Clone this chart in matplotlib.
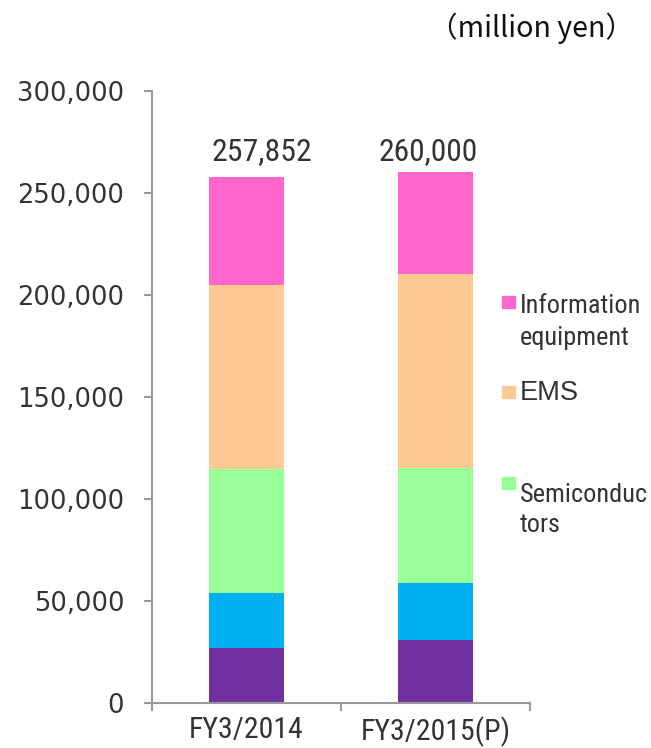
import matplotlib
matplotlib.use("Agg")
import matplotlib.pyplot as plt
from matplotlib.patches import Rectangle
from matplotlib.ticker import FuncFormatter
from matplotlib import font_manager
from matplotlib.font_manager import FontProperties

categories = ["FY3/2014", "FY3/2015(P)"]
purple = [27100, 31000]
blue = [26800, 27800]
semis = [60700, 56500]
ems = [90300, 94900]
info = [52952, 49800]
totals = [257852, 260000]
total_labels = ["257,852", "260,000"]
legend_labels = [["Information", "equipment"], ["EMS"], ["Semiconduc", "tors"]]
colors = ["#7030A0", "#00B0F0", "#99FF99", "#FFC993", "#FF66CC"]

names = {f.name for f in font_manager.fontManager.ttflist}
narrow_family = None
for cand in ["Roboto Condensed", "Liberation Sans Narrow", "Open Sans Condensed",
             "Noto Sans Condensed", "DejaVu Sans Condensed"]:
    if cand in names:
        narrow_family = cand
        break
if narrow_family is None:
    NARROW = FontProperties(family="DejaVu Sans", stretch="condensed")
else:
    NARROW = FontProperties(family=narrow_family)

def nfp(size):
    p = NARROW.copy()
    p.set_size(size)
    return p

W, H = 651, 748
def fx(px): return px / W
def fy(py): return 1 - py / H

fig = plt.figure(figsize=(6.51, 7.48), dpi=100)
ax = fig.add_axes([152/651, 45/748, (530-152)/651, (703-90.7)/748])

series = [purple, blue, semis, ems, info]
x = list(range(len(categories)))
bottom = [0, 0]
for vals, c in zip(series, colors):
    ax.bar(x, vals, width=0.40, bottom=bottom, color=c, edgecolor="none")
    bottom = [b + v for b, v in zip(bottom, vals)]

ax.set_xlim(-0.5, 1.5)
ax.set_ylim(0, 300000)
ax.set_yticks(range(0, 300001, 50000))
ax.yaxis.set_major_formatter(FuncFormatter(lambda v, p: f"{int(v):,}"))
ax.set_xticks([-0.5, 0.5, 1.5])
ax.set_xticklabels([])
ax.set_xticks(x, minor=True)
ax.set_xticklabels(categories, minor=True, fontproperties=nfp(22), color="#333333")
ax.tick_params(axis="x", which="minor", length=0, pad=9.5)
ax.tick_params(axis="x", which="major", length=6, width=1.5, color="#999999", direction="out")
ax.tick_params(axis="y", length=6, width=1.5, color="#999999", labelsize=18.5,
               labelcolor="#333333", pad=14)
for s in ["top", "right"]:
    ax.spines[s].set_visible(False)
for s in ["left", "bottom"]:
    ax.spines[s].set_color("#999999")
    ax.spines[s].set_linewidth(1.5)

renderer = fig.canvas.get_renderer()
def fit(t, target_w):
    bb = t.get_window_extent(renderer)
    if bb.width > 0:
        t.set_fontsize(t.get_fontsize() * target_w / bb.width)

# totals above bars
label_x = [262, 428]
for lab, px in zip(total_labels, label_x):
    t = fig.text(fx(px), fy(160), lab, ha="center", va="baseline",
                 fontproperties=nfp(24), color="#333333")
    fit(t, 100)

# x tick labels fit
for t, w in zip(ax.get_xticklabels(minor=True), [115, 150]):
    fit(t, w)
sizes = [t.get_fontsize() for t in ax.get_xticklabels(minor=True)]
for t in ax.get_xticklabels(minor=True):
    t.set_fontsize(sum(sizes) / len(sizes))

# legend (manual)
legend_colors = [colors[4], colors[3], colors[2]]
squares = [296, 386, 477]
baselines = [[313, 345], [400.5], [501.5, 531.5]]
widths = {"Information": 125, "Semiconduc": 128, "EMS": 59}
for c, sq, labs, bls in zip(legend_colors, squares, legend_labels, baselines):
    fig.patches.append(Rectangle((fx(502), fy(sq + 12)), 13/W, 12/H, transform=fig.transFigure,
                                 color=c, figure=fig))
    for lab, bl in zip(labs, bls):
        if lab == "EMS":
            t = fig.text(fx(520), fy(bl), lab, ha="left", va="baseline", fontsize=19,
                         family="Liberation Sans", color="#333333")
        else:
            t = fig.text(fx(520), fy(bl), lab, ha="left", va="baseline",
                         fontproperties=nfp(19), color="#333333")
        if lab in widths:
            fit(t, widths[lab])
leg_texts = [t for t in fig.texts if t.get_text() in ("Information", "equipment", "Semiconduc", "tors")]
fs = min(t.get_fontsize() for t in leg_texts if t.get_text() in ("Information", "Semiconduc"))
for t in leg_texts:
    t.set_fontsize(fs)

u = fig.text(fx(531.5), fy(37), "（million yen）", ha="center", va="baseline", fontsize=17,
             family=["Noto Sans CJK JP", "DejaVu Sans"], color="#111111")
fit(u, 175)
u.set_fontsize(u.get_fontsize() * 1.17)

fig.savefig("out.png", dpi=100)
